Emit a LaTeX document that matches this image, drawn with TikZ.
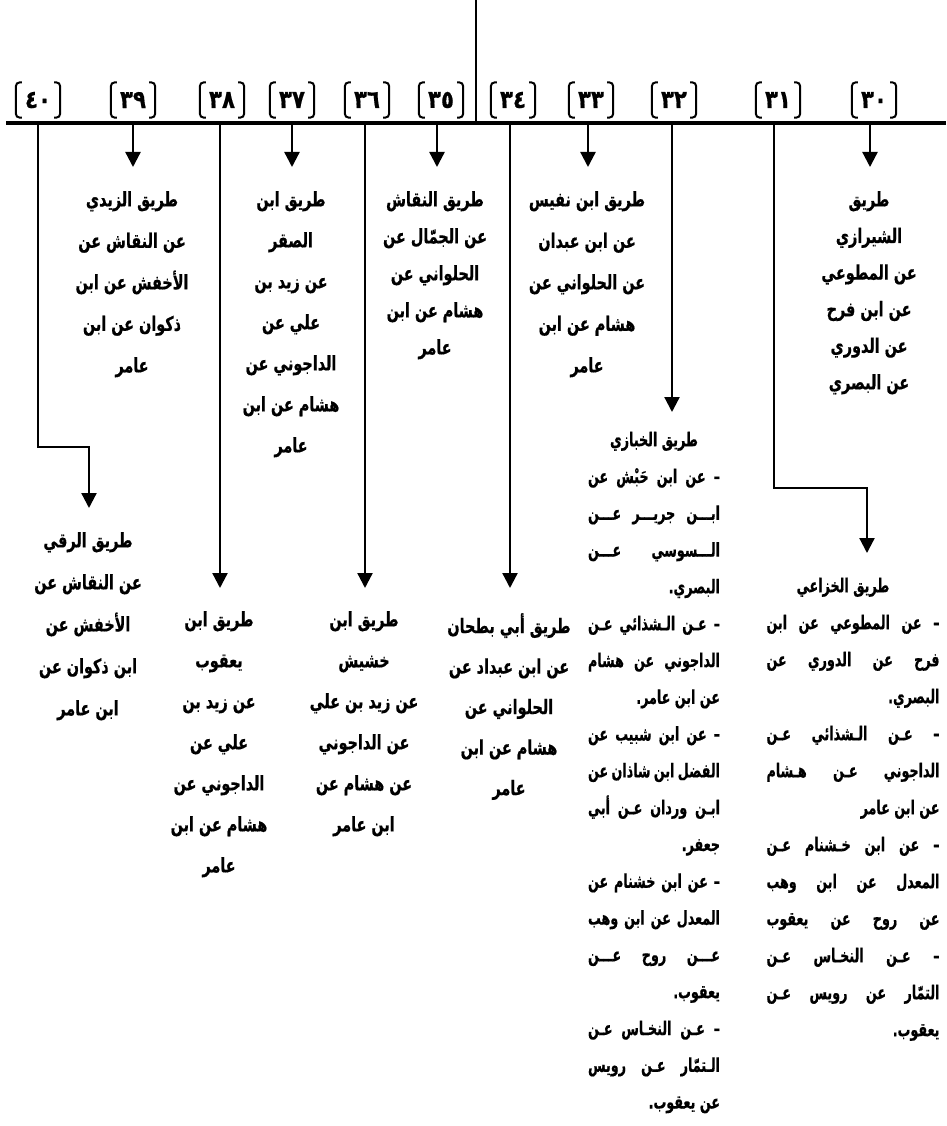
\documentclass[tikz,border=0pt]{standalone}
\usepackage{fontspec}
\usetikzlibrary{arrows.meta}
\newfontfamily\arfont[Script=Arabic,FakeStretch=0.72,BoldFeatures={FakeBold=0.6}]{DejaVu Sans}
\newfontfamily\arblk[Script=Arabic,FakeStretch=0.67,BoldFeatures={FakeBold=0.6}]{DejaVu Sans}
\newfontfamily\ardig[Script=Arabic,FakeStretch=0.85,BoldFeatures={FakeBold=0.6}]{DejaVu Sans}
\TeXXeTstate=1
\newcommand\fl{\rule{0pt}{15pt}}
\newcommand\jl[2]{\makebox[#1][s]{#2}}
\newcommand\rl[2]{\makebox[#1][r]{#2}}
\begin{document}
\begin{tikzpicture}[x=1pt,y=-1pt,
  ln/.style={line width=2.3pt},
  bar/.style={line width=3.2pt},
  arr/.style={line width=2.3pt,-{Triangle[width=15pt,length=15pt]}},
  brk/.style={line width=2pt,rounded corners=4pt},
  lab/.style={inner sep=0pt,minimum width=44pt,minimum height=35pt,
    font=\ardig\bfseries\fontsize{25}{25}\selectfont},
  txt/.style={inner xsep=0pt,align=center,anchor=north,
    font=\arfont\bfseries\fontsize{20}{#1}\selectfont},
  blk/.style={inner xsep=0pt,align=center,anchor=north,
    font=\arblk\bfseries\fontsize{19}{#1}\selectfont},
]
\useasboundingbox (0,0) rectangle (946,1126);

% top line and bar
\coordinate (top) at (476,0);
\coordinate (topb) at (476,123);
\coordinate (barL) at (6,123);
\coordinate (barR) at (946,123);
\draw[ln] (top) -- (topb);
\draw[bar] (barL) -- (barR);

% bracket labels
\node[lab] (b40) at (38,100)  {٤٠};
\node[lab] (b39) at (133,100) {٣٩};
\node[lab] (b38) at (222,100) {٣٨};
\node[lab] (b37) at (292,100) {٣٧};
\node[lab] (b36) at (367,100) {٣٦};
\node[lab] (b35) at (441,100) {٣٥};
\node[lab] (b34) at (513,100) {٣٤};
\node[lab] (b33) at (591,100) {٣٣};
\node[lab] (b32) at (674,100) {٣٢};
\node[lab] (b31) at (778,100) {٣١};
\node[lab] (b30) at (874,100) {٣٠};
\foreach \n in {30,...,40}{
  \draw[brk] ([xshift=6pt]b\n.north west) -- (b\n.north west) -- (b\n.south west) -- ([xshift=6pt]b\n.south west);
  \draw[brk] ([xshift=-6pt]b\n.north east) -- (b\n.north east) -- (b\n.south east) -- ([xshift=-6pt]b\n.south east);
}

% drop points on the bar
\coordinate (p40) at (38,123);
\coordinate (p39) at (133,123);
\coordinate (p38) at (220,123);
\coordinate (p37) at (292,123);
\coordinate (p36) at (365,123);
\coordinate (p35) at (437,123);
\coordinate (p34) at (510,123);
\coordinate (p33) at (588,123);
\coordinate (p32) at (672,123);
\coordinate (p31) at (774,123);
\coordinate (p30) at (870,123);
\coordinate (k40) at (89,447);
\coordinate (k31) at (867,488);

% upper texts
\node[txt=36.6,inner ysep=24pt] (t30) at (869,167) {\beginR\fl طريق\endR\\\beginR الشيرازي\endR\\\beginR عن المطوعي\endR\\\beginR عن ابن فرح\endR\\\beginR عن الدوري\endR\\\beginR عن البصري\endR};
\node[txt=41.5,inner ysep=24pt] (t33) at (587,167) {\beginR\fl طريق ابن نفيس\endR\\\beginR عن ابن عبدان\endR\\\beginR عن الحلواني عن\endR\\\beginR هشام عن ابن\endR\\\beginR عامر\endR};
\node[txt=37,inner ysep=24pt] (t35) at (435,167) {\beginR\fl طريق النقاش\endR\\\beginR عن الجمّال عن\endR\\\beginR الحلواني عن\endR\\\beginR هشام عن ابن\endR\\\beginR عامر\endR};
\node[txt=41,inner ysep=24pt] (t37) at (291,167) {\beginR\fl طريق ابن\endR\\\beginR الصقر\endR\\\beginR عن زيد بن\endR\\\beginR علي عن\endR\\\beginR الداجوني عن\endR\\\beginR هشام عن ابن\endR\\\beginR عامر\endR};
\node[txt=41.5,inner ysep=24pt] (t39) at (132,167) {\beginR\fl طريق الزيدي\endR\\\beginR عن النقاش عن\endR\\\beginR الأخفش عن ابن\endR\\\beginR ذكوان عن ابن\endR\\\beginR عامر\endR};

% lower texts
\node[txt=42,inner ysep=24pt] (t40) at (88,508) {\beginR\fl طريق الرقي\endR\\\beginR عن النقاش عن\endR\\\beginR الأخفش عن\endR\\\beginR ابن ذكوان عن\endR\\\beginR ابن عامر\endR};
\node[txt=41,inner ysep=23pt] (t38) at (219,588) {\beginR\fl طريق ابن\endR\\\beginR يعقوب\endR\\\beginR عن زيد بن\endR\\\beginR علي عن\endR\\\beginR الداجوني عن\endR\\\beginR هشام عن ابن\endR\\\beginR عامر\endR};
\node[txt=41,inner ysep=23pt] (t36) at (364,588) {\beginR\fl طريق ابن\endR\\\beginR خشيش\endR\\\beginR عن زيد بن علي\endR\\\beginR عن الداجوني\endR\\\beginR عن هشام عن\endR\\\beginR ابن عامر\endR};
\node[txt=40.5,inner ysep=25pt] (t34) at (509,588) {\beginR\fl طريق أبي بطحان\endR\\\beginR عن ابن عبداد عن\endR\\\beginR الحلواني عن\endR\\\beginR هشام عن ابن\endR\\\beginR عامر\endR};

% justified blocks
\node[blk=36.8,inner ysep=19pt] (t32) at (654,412) {\beginR\fl طريق الخبازي\endR\\
\jl{132pt}{\beginR – عن ابن حَبْش عن\endR}\\\jl{132pt}{\beginR ابـــن جريـــر عـــن\endR}\\\jl{132pt}{\beginR الـــسوسي عـــن\endR}\\\rl{132pt}{\beginR البصري.\endR}\\
\jl{132pt}{\beginR – عـن الـشذائي عـن\endR}\\\jl{132pt}{\beginR الداجوني عن هشام\endR}\\\rl{132pt}{\beginR عن ابن عامر.\endR}\\
\jl{132pt}{\beginR – عن ابن شبيب عن\endR}\\\jl{132pt}{\beginR الفضل ابن شاذان عن\endR}\\\jl{132pt}{\beginR ابـن وردان عـن أبي\endR}\\\rl{132pt}{\beginR جعفر.\endR}\\
\jl{132pt}{\beginR – عن ابن خشنام عن\endR}\\\jl{132pt}{\beginR المعدل عن ابن وهب\endR}\\\jl{132pt}{\beginR عـــن روح عـــن\endR}\\\rl{132pt}{\beginR يعقوب.\endR}\\
\jl{132pt}{\beginR – عـن النخـاس عـن\endR}\\\jl{132pt}{\beginR الـتمّار عـن رويس\endR}\\\rl{132pt}{\beginR عن يعقوب.\endR}};
\node[blk=37,inner ysep=24pt] (t31) at (853,553) {\makebox[173pt][c]{\beginR\fl طريق الخزاعي\endR\hspace{20pt}}\\
\jl{173pt}{\beginR – عن المطوعي عن ابن\endR}\\\jl{173pt}{\beginR فرح عن الدوري عن\endR}\\\rl{173pt}{\beginR البصري.\endR}\\
\jl{173pt}{\beginR – عـن الـشذائي عـن\endR}\\\jl{173pt}{\beginR الداجوني عـن هـشام\endR}\\\rl{173pt}{\beginR عن ابن عامر\endR}\\
\jl{173pt}{\beginR – عن ابن خـشنام عـن\endR}\\\jl{173pt}{\beginR المعدل عن ابن وهب\endR}\\\jl{173pt}{\beginR عن روح عن يعقوب\endR}\\
\jl{173pt}{\beginR – عـن النخـاس عـن\endR}\\\jl{173pt}{\beginR التمّار عن رويس عـن\endR}\\\rl{173pt}{\beginR يعقوب.\endR}};

% connectors
\draw[arr] (p30) -- (p30 |- t30.north);
\draw[arr] (p33) -- (p33 |- t33.north);
\draw[arr] (p35) -- (p35 |- t35.north);
\draw[arr] (p37) -- (p37 |- t37.north);
\draw[arr] (p39) -- (p39 |- t39.north);
\draw[arr] (p38) -- (p38 |- t38.north);
\draw[arr] (p36) -- (p36 |- t36.north);
\draw[arr] (p34) -- (p34 |- t34.north);
\draw[arr] (p32) -- (p32 |- t32.north);
\draw[arr] (p40) |- (k40) -- (k40 |- t40.north);
\draw[arr] (p31) |- (k31) -- (k31 |- t31.north);
\end{tikzpicture}
\end{document}
